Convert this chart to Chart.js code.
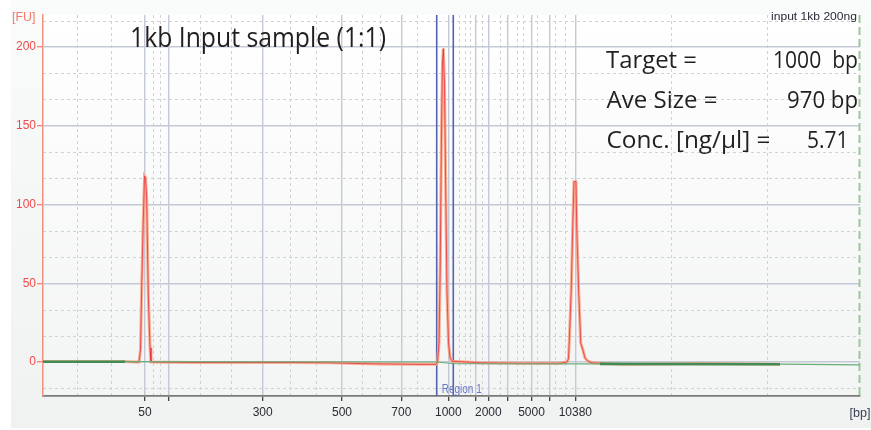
<!DOCTYPE html>
<html><head><meta charset="utf-8">
<script src="https://cdn.jsdelivr.net/npm/chart.js@4"></script>
<style>html,body{margin:0;padding:0;background:#fff;}#wrap{width:871px;height:430px;position:relative;}canvas{display:block;}</style>
</head><body><div id="wrap"><canvas id="c" width="871" height="430"></canvas></div>
<script>
// Ladder (bp) and their migration times (s)
const ladderBp     = [50, 100, 300, 500, 700, 1000, 1500, 2000, 3000, 5000, 7000, 10380];
const ladderTime   = [33.73, 36.96, 49.58, 60.26, 68.24, 74.57, 78.23, 79.96, 82.50, 85.77, 88.26, 91.67];
const ladderLabels = ['50', '', '300', '500', '700', '1000', '', '2000', '', '5000', '', '10380'];
const fuTicks      = [0, 50, 100, 150, 200];
// minor (dashed) grid positions
const minorTime = [24.58, 29.22, 34.77, 35.75, 41.14, 45.27, 53.26, 56.76, 62.91, 65.37, 70.31, 76.01, 76.82, 77.49, 79.07, 81.53, 83.86, 84.67, 86.47, 88.94, 90.28, 104.51, 117.44];
const minorFU   = [-16.67, 16.67, 33.33, 66.67, 83.33, 116.67, 133.33, 166.67, 183.33, 216.67];
// sample trace
const traceTime = [20.00, 31.04, 32.39, 32.93, 33.13, 33.29, 33.50, 33.67, 33.80, 33.96, 34.18, 34.41, 34.54, 39.79, 53.26, 58.64, 62.68, 65.37, 70.76, 72.91,
                   73.12, 73.32, 73.48, 73.66, 73.79, 73.90, 74.06, 74.22, 74.39, 74.60, 74.80, 75.07, 78.84, 84.22, 89.61,
                   90.55, 90.75, 90.86, 91.13, 91.32, 91.49, 91.76, 91.86, 92.13, 92.40, 92.67, 92.98, 93.38, 93.92, 97.69, 100.38, 108.46, 119.23];
const traceFU   = [0.3, 0.3, 0, 0, 8, 48, 90, 118, 117, 104, 42, 9, 0, -0.3, -0.3, -0.5, -1, -1.2, -1.5, -1.5,
                   0, 12, 60, 150, 190, 199, 175, 110, 45, 12, 3, 0.5, -0.5, -0.8, -0.8,
                   0, 2, 13, 47, 85, 114.5, 114.5, 86, 44, 12, 8, 2.5, 0.5, -0.5, -1.5, -1.5, -1, -1.5];
// baseline
const baselineTime = [20, 31.04, 73.0, 75.5, 94.99, 119.23, 130];
const baselineFU   = [0.2, 0.2, 0, -1.1, -1.2, -1.4, -1.8];
const regionTime = [73.01, 75.24];
const X_MIN = 20, X_MAX = 130, Y_MIN = -21.59, Y_MAX = 220.32;

const pts = (xs, ys) => xs.map((x, i) => ({x, y: ys[i]}));

function fitText(ctx, text, x, y, w, font, color, align) {
  ctx.save();
  ctx.font = font; ctx.fillStyle = color; ctx.textBaseline = 'alphabetic';
  const nat = ctx.measureText(text).width;
  const sx = w / nat;
  ctx.translate(x, y); ctx.scale(sx, 1);
  ctx.textAlign = align || 'left';
  ctx.fillText(text, 0, 0);
  ctx.restore();
}

const bgPlugin = {
  id: 'bg',
  beforeDraw(chart) {
    const {ctx, chartArea: a, width, height} = chart;
    const xs = chart.scales.x, ys = chart.scales.y;
    ctx.save();
    ctx.fillStyle = '#ffffff'; ctx.fillRect(0, 0, width, height);
    let g = ctx.createLinearGradient(0, 0, 0, 428);
    g.addColorStop(0, '#fafbfb'); g.addColorStop(1, '#f0f1f1');
    ctx.fillStyle = g; ctx.fillRect(11, 0, width - 11, 428);
    g = ctx.createLinearGradient(0, a.top, 0, a.bottom);
    g.addColorStop(0, '#ffffff'); g.addColorStop(1, '#f3f4f4');
    ctx.fillStyle = g; ctx.fillRect(a.left, a.top, a.right - a.left, a.bottom - a.top);
    ctx.strokeStyle = '#d0d2d4'; ctx.lineWidth = 1; ctx.setLineDash([3, 3]);
    minorTime.forEach(t => {
      const px = Math.round(xs.getPixelForValue(t)) + 0.5;
      ctx.beginPath(); ctx.moveTo(px, a.top); ctx.lineTo(px, a.bottom); ctx.stroke();
    });
    minorFU.forEach(v => {
      const py = Math.round(ys.getPixelForValue(v)) + 0.5;
      ctx.beginPath(); ctx.moveTo(a.left, py); ctx.lineTo(a.right, py); ctx.stroke();
    });
    ctx.restore();
  },
  beforeDatasetsDraw(chart) {
    const {ctx, chartArea: a} = chart;
    const xs = chart.scales.x;
    ctx.save();
    ctx.strokeStyle = '#5464b2'; ctx.lineWidth = 1.6;
    regionTime.forEach(t => {
      const px = xs.getPixelForValue(t);
      ctx.beginPath(); ctx.moveTo(px, a.top); ctx.lineTo(px, a.bottom); ctx.stroke();
    });
    ctx.strokeStyle = '#9cc79c'; ctx.lineWidth = 2; ctx.setLineDash([8, 4]);
    const rx = xs.getPixelForValue(X_MAX) - 0.5;
    ctx.beginPath(); ctx.moveTo(rx, a.top); ctx.lineTo(rx, a.bottom); ctx.stroke();
    ctx.restore();
  },
  afterDraw(chart) {
    const {ctx} = chart;
    const xs = chart.scales.x;
    ctx.save();
    fitText(ctx, '1kb Input sample (1:1)', 130, 46.5, 256, '26.5px "Open Sans"', '#231f20');
    fitText(ctx, 'Target =', 606, 68, 91, '24.5px "Open Sans"', '#231f20');
    fitText(ctx, '1000  bp', 858, 68, 85, '24.5px "Open Sans"', '#231f20', 'right');
    fitText(ctx, 'Ave Size =', 606.5, 108, 111, '24.5px "Open Sans"', '#231f20');
    fitText(ctx, '970 bp', 858, 108, 71, '24.5px "Open Sans"', '#231f20', 'right');
    fitText(ctx, 'Conc. [ng/\u00b5l] =', 606.5, 148, 164, '24.5px "Open Sans"', '#231f20');
    fitText(ctx, '5.71', 848.5, 148, 41.5, '24.5px "Open Sans"', '#231f20', 'right');
    fitText(ctx, 'input 1kb 200ng', 771, 20, 86, '11px "Liberation Sans"', '#2a2a3a');
    fitText(ctx, '[FU]', 12, 21, 23.5, '12px "Liberation Sans"', '#f07a6a');
    fitText(ctx, '[bp]', 849.5, 416.5, 21, '13px "Liberation Sans"', '#3a4258');
    const rl = xs.getPixelForValue(regionTime[0]);
    ctx.globalAlpha = 0.9;
    fitText(ctx, 'Region 1', rl + 5, 393, 40, '12px "Liberation Sans"', '#5a6cc4');
    ctx.restore();
  }
};

new Chart(document.getElementById('c'), {
  type: 'line',
  data: {
    datasets: [
      { label: 'halo', data: pts(traceTime, traceFU), borderColor: 'rgba(248,165,138,0.9)', borderWidth: 3, pointRadius: 0, tension: 0, order: 3 },
      { label: 'sample', data: pts(traceTime, traceFU), borderColor: 'rgba(228,40,50,0.8)', borderWidth: 0.9, pointRadius: 0, tension: 0, order: 2 },
      { label: 'baseline', data: pts(baselineTime, baselineFU), borderColor: '#5aa56c', pointRadius: 0, tension: 0, order: 1,
        borderWidth: 1.2,
        segment: {
          borderWidth: c => (c.p0DataIndex === 0 || c.p0DataIndex === 4) ? 2.6 : 1.2,
          borderColor: c => (c.p0DataIndex === 0 || c.p0DataIndex === 4) ? '#3f8d55' : '#67ad78'
        } }
    ]
  },
  options: {
    responsive: false, animation: false, devicePixelRatio: 1,
    layout: { padding: { left: 0, right: 11, top: 15, bottom: 0 } },
    plugins: { legend: { display: false }, tooltip: { enabled: false } },
    scales: {
      x: {
        type: 'linear', min: X_MIN, max: X_MAX,
        afterBuildTicks: s => { s.ticks = ladderTime.map(v => ({value: v})); },
        afterFit: s => { s.height = 34; },
        ticks: {
          autoSkip: false, maxRotation: 0, padding: 4,
          color: '#2b2b33', font: { family: '"Liberation Sans"', size: 12 },
          callback: (v, i) => ladderLabels[i]
        },
        grid: { color: '#c4c9d6', lineWidth: 1.4, tickLength: 5, tickColor: '#333', tickWidth: 1.2 },
        border: { color: '#7a7a7a', width: 1.8 }
      },
      y: {
        type: 'linear', min: Y_MIN, max: Y_MAX,
        afterBuildTicks: s => { s.ticks = fuTicks.map(v => ({value: v})); },
        afterFit: s => { s.width = 43; },
        ticks: { padding: 1, color: '#ef4a4a', font: { family: '"Liberation Sans"', size: 12 } },
        grid: { color: '#c4c9d6', lineWidth: 1.4, tickLength: 6, tickColor: '#f07a6a', tickWidth: 1.2 },
        border: { color: '#f2907e', width: 1.5 }
      }
    }
  },
  plugins: [bgPlugin]
});
</script>
</body></html>
